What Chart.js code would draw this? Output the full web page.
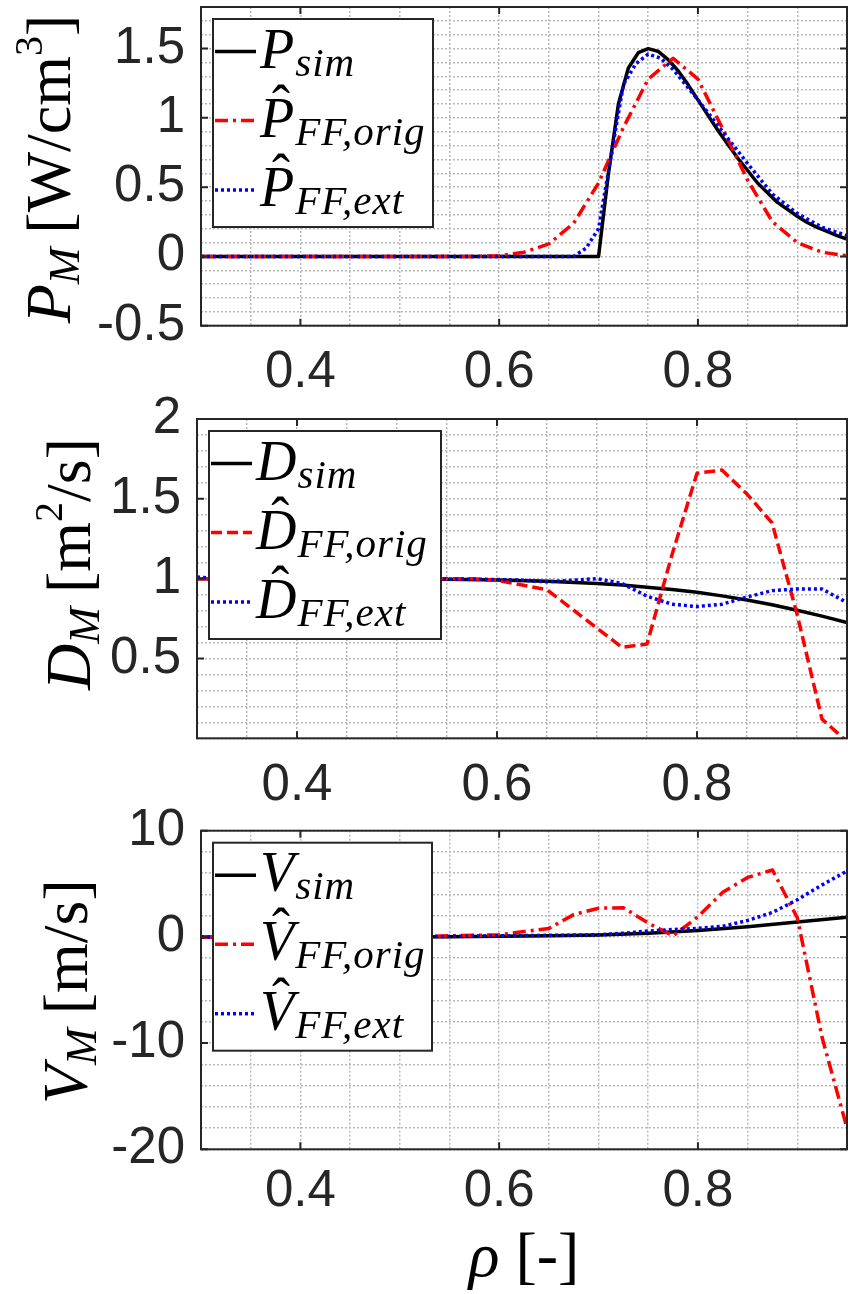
<!DOCTYPE html>
<html>
<head>
<meta charset="utf-8">
<script src="https://cdn.jsdelivr.net/npm/chart.js@4.4.1/dist/chart.umd.min.js"></script>
<style>
  html, body { margin: 0; padding: 0; background: #fff; }
  #wrap { position: relative; width: 848px; height: 1294px; overflow: hidden; }
  .panel { position: absolute; left: 0; width: 848px; }
</style>
</head>
<body>
<div id="wrap">
  <div class="panel" style="top:0;height:420px"><canvas id="cP"></canvas></div>
  <div class="panel" style="top:380px;height:450px"><canvas id="cD"></canvas></div>
  <div class="panel" style="top:790px;height:504px"><canvas id="cV"></canvas></div>
</div>
<script>
// radial grid of the feed-forward profiles
const rhoFF = [0.300, 0.325, 0.350, 0.375, 0.400, 0.425, 0.450, 0.475, 0.500,
               0.525, 0.550, 0.575, 0.600, 0.625, 0.650, 0.675, 0.700, 0.725,
               0.750, 0.775, 0.800, 0.825, 0.850, 0.875, 0.900, 0.925, 0.950];

// P_M
const rhoPsim = [0.30, 0.70, 0.71, 0.72, 0.73, 0.74, 0.75, 0.76, 0.77, 0.78, 0.79, 0.80, 0.81, 0.82,
                 0.83, 0.84, 0.85, 0.86, 0.87, 0.88, 0.89, 0.90, 0.91, 0.92, 0.93, 0.94, 0.95];
const P_sim = [0, 0, 0.60, 1.10, 1.36, 1.47, 1.50, 1.48, 1.42, 1.34, 1.24, 1.13, 1.02, 0.91,
               0.81, 0.71, 0.62, 0.53, 0.46, 0.39, 0.34, 0.29, 0.245, 0.21, 0.18, 0.15, 0.125];
const P_FF_orig = [0, 0, 0, 0, 0, 0, 0, 0, 0, 0, 0, 0, 0.005, 0.03, 0.09, 0.24, 0.53, 0.93,
                   1.28, 1.43, 1.28, 0.92, 0.55, 0.25, 0.10, 0.03, 0.005];
const rhoPext = [0.30, 0.65, 0.675, 0.6875, 0.70, 0.7125, 0.725, 0.7375, 0.75, 0.7625, 0.775,
                 0.7875, 0.80, 0.825, 0.85, 0.875, 0.90, 0.925, 0.95];
const P_FF_ext = [0, 0, 0, 0.06, 0.20, 0.72, 1.24, 1.39, 1.46, 1.43, 1.35,
                  1.24, 1.13, 0.90, 0.67, 0.45, 0.31, 0.21, 0.15];

// D_M
const rhoDsim = [0.30, 0.35, 0.40, 0.45, 0.50, 0.55, 0.60, 0.65, 0.70, 0.725, 0.75, 0.775,
                 0.80, 0.825, 0.85, 0.875, 0.90, 0.925, 0.95];
const D_sim = [1.0, 1.0, 1.0, 1.0, 0.999, 0.996, 0.992, 0.984, 0.97, 0.96, 0.946, 0.932,
               0.915, 0.892, 0.866, 0.836, 0.802, 0.765, 0.725];
const D_FF_orig = [1.0, 1.0, 1.0, 1.0, 1.0, 1.0, 1.0, 1.0, 1.0, 1.0, 1.0, 1.0, 0.99, 0.96, 0.93,
                   0.81, 0.69, 0.57, 0.59, 1.15, 1.66, 1.68, 1.53, 1.35, 0.78, 0.12, -0.02];
const D_FF_ext = [1.01, 1.0, 1.0, 1.0, 1.0, 1.0, 1.0, 0.998, 0.998, 0.998, 0.997, 0.996, 0.995,
                  0.99, 0.98, 0.99, 1.0, 0.97, 0.89, 0.84, 0.825, 0.84, 0.885, 0.925, 0.935,
                  0.935, 0.85];

// V_M
const rhoVsim = [0.30, 0.40, 0.50, 0.55, 0.60, 0.65, 0.70, 0.75, 0.80, 0.85, 0.90, 0.95];
const V_sim = [0, 0, 0, 0.02, 0.05, 0.10, 0.18, 0.35, 0.60, 0.95, 1.40, 1.85];
const V_FF_orig = [0, 0, 0, 0, 0, 0, 0, 0, 0, 0.05, 0.10, 0.15, 0.20, 0.50, 0.80, 2.10, 2.70,
                   2.75, 1.30, 0.10, 1.90, 4.20, 5.60, 6.30, 1.80, -9.50, -18.0];
const V_FF_ext = [0, 0, 0, 0, 0, 0, 0, 0, 0, 0.02, 0.05, 0.08, 0.10, 0.12, 0.15, 0.17, 0.20,
                  0.35, 0.55, 0.70, 0.80, 1.00, 1.55, 2.30, 3.50, 4.90, 6.20];

// axes
const xTicks = [0.4, 0.6, 0.8];
const yTicksP = [-0.5, 0, 0.5, 1, 1.5];
const yTicksD = [0.5, 1, 1.5, 2];
const yTicksV = [-20, -10, 0, 10];

const SANS = "'Liberation Sans', Arial, sans-serif";
const SERIF = "'Liberation Serif', 'DejaVu Serif', serif";
const DASHDOT = [13, 5, 3, 5];
const DASHED = [11, 5];
const DOTTED = [3, 3];

function xy(xs, ys) {
    return xs.map((x, i) => ({ x: x, y: ys[i] }));
}

function gridSteps(min, max, step) {
    const out = [];
    for (let v = min; v <= max + 1e-9; v += step) out.push(+v.toFixed(4));
    return out;
}

function isMajor(list, v) {
    return list.some(m => Math.abs(m - v) < 1e-6);
}

// draws a row of text pieces (italic symbol, subscript ...) starting at x
function drawParts(ctx, x, y, parts) {
    parts.forEach(p => {
        ctx.font = p.f;
        ctx.fillText(p.t, x, y + (p.dy || 0));
        x += ctx.measureText(p.t).width + (p.gap || 0);
    });
    return x;
}

function partsWidth(ctx, parts) {
    let w = 0;
    parts.forEach(p => { ctx.font = p.f; w += ctx.measureText(p.t).width + (p.gap || 0); });
    return w;
}

function matlabLook(cfg) {
    return {
        id: 'matlabLook',
        afterDatasetsDraw(chart) {
            const ctx = chart.ctx, a = chart.chartArea;
            const sx = chart.scales.x, sy = chart.scales.y;
            ctx.save();
            // box and inward tick marks
            ctx.strokeStyle = '#262626';
            ctx.lineWidth = 2;
            ctx.setLineDash([]);
            ctx.strokeRect(a.left, a.top, a.right - a.left, a.bottom - a.top);
            ctx.beginPath();
            xTicks.forEach(v => {
                const px = sx.getPixelForValue(v);
                ctx.moveTo(px, a.bottom); ctx.lineTo(px, a.bottom - 7);
                ctx.moveTo(px, a.top); ctx.lineTo(px, a.top + 7);
            });
            cfg.yMajor.forEach(v => {
                const py = sy.getPixelForValue(v);
                ctx.moveTo(a.left, py); ctx.lineTo(a.left + 7, py);
                ctx.moveTo(a.right, py); ctx.lineTo(a.right - 7, py);
            });
            ctx.stroke();

            // legend (northwest)
            const bx = a.left + 12, by = a.top + 12, bh = 208;
            ctx.fillStyle = '#fff';
            ctx.fillRect(bx, by, cfg.legendW, bh);
            ctx.strokeRect(bx, by, cfg.legendW, bh);
            const rows = [44.5, 113.5, 183];
            cfg.entries.forEach((e, i) => {
                const ds = chart.data.datasets[i];
                const ly = a.top + rows[i];
                ctx.strokeStyle = ds.borderColor;
                ctx.lineWidth = 3.5;
                ctx.setLineDash(ds.borderDash || []);
                ctx.beginPath();
                ctx.moveTo(a.left + 14, ly);
                ctx.lineTo(a.left + 55, ly);
                ctx.stroke();
                ctx.setLineDash([]);

                ctx.fillStyle = '#000';
                ctx.textBaseline = 'alphabetic';
                ctx.textAlign = 'left';
                const tx = a.left + 59, base = ly + 16;
                ctx.font = 'italic 56px ' + SERIF;
                ctx.fillText(e.sym, tx, base);
                const w = ctx.measureText(e.sym).width;
                if (e.hat) {
                    ctx.font = '54px ' + SERIF;
                    ctx.textAlign = 'center';
                    ctx.fillText('\u02C6', tx + w * 0.5 + 4, base - 14);
                    ctx.textAlign = 'left';
                }
                ctx.font = 'italic 41px ' + SERIF;
                ctx.letterSpacing = '1px';
                ctx.fillText(e.sub, tx + w + 1, base + 8);
                ctx.letterSpacing = '0px';
            });
            ctx.restore();
        },
        afterDraw(chart) {
            const ctx = chart.ctx;
            ctx.save();
            ctx.fillStyle = '#000';
            ctx.textBaseline = 'alphabetic';
            ctx.textAlign = 'left';
            // rotated y label
            const t = cfg.yTitle;
            ctx.save();
            ctx.translate(t.x, t.y);
            ctx.rotate(-Math.PI / 2);
            drawParts(ctx, -partsWidth(ctx, t.parts) / 2, 0, t.parts);
            ctx.restore();
            // x label (bottom panel only)
            if (cfg.xTitle) {
                const p = cfg.xTitle.parts;
                drawParts(ctx, cfg.xTitle.x - partsWidth(ctx, p) / 2, cfg.xTitle.y, p);
            }
            ctx.restore();
        }
    };
}

function makePanel(id, cfg) {
    const tickFont = { family: SANS, size: 51 };
    return new Chart(document.getElementById(id), {
        type: 'line',
        data: {
            datasets: cfg.series.map((s, i) => ({
                data: s.data,
                borderColor: s.color,
                borderWidth: 3.5,
                borderDash: s.dash,
                borderCapStyle: 'butt',
                borderJoinStyle: 'round',
                pointRadius: 0,
                fill: false,
                tension: 0,
                clip: 0,
                order: 3 - i
            }))
        },
        options: {
            responsive: true,
            maintainAspectRatio: false,
            animation: false,
            layout: { autoPadding: false, padding: { top: cfg.padTop, right: 1, left: 0, bottom: 0 } },
            plugins: { legend: { display: false }, tooltip: { enabled: false } },
            scales: {
                x: {
                    type: 'linear',
                    min: 0.3,
                    max: 0.95,
                    afterBuildTicks: s => { s.ticks = gridSteps(0.3, 0.95, 0.05).map(v => ({ value: v })); },
                    afterFit: s => { s.height = cfg.xAxisH; s.paddingLeft = 0; s.paddingRight = 0; },
                    ticks: {
                        autoSkip: false,
                        maxRotation: 0,
                        padding: cfg.xPad,
                        font: tickFont,
                        color: '#262626',
                        callback: v => isMajor(xTicks, v) ? String(v) : ''
                    },
                    grid: { color: '#b9b9b9', lineWidth: 1.5, drawTicks: false },
                    border: { display: false, dash: [2, 2] }
                },
                y: {
                    type: 'linear',
                    min: cfg.yMin,
                    max: cfg.yMax,
                    afterBuildTicks: s => { s.ticks = gridSteps(cfg.yMin, cfg.yMax, cfg.yMinor).map(v => ({ value: v })); },
                    afterFit: s => { s.width = cfg.yAxisW; s.paddingTop = 0; s.paddingBottom = 0; },
                    ticks: {
                        autoSkip: false,
                        padding: 16,
                        font: tickFont,
                        color: '#262626',
                        callback: v => isMajor(cfg.yMajor, v) ? String(v) : ''
                    },
                    grid: { color: '#b9b9b9', lineWidth: 1.5, drawTicks: false },
                    border: { display: false, dash: [2, 2] }
                }
            }
        },
        plugins: [matlabLook(cfg)]
    });
}

const IT = s => 'italic ' + s + 'px ' + SERIF;
const RM = s => s + 'px ' + SERIF;

makePanel('cP', {
    padTop: 7, xAxisH: 94.3, xPad: 17, yAxisW: 201,
    yMin: -0.5, yMax: 1.8, yMinor: 0.1, yMajor: yTicksP,
    series: [
        { data: xy(rhoPsim, P_sim), color: '#000000', dash: [] },
        { data: xy(rhoFF, P_FF_orig), color: '#ff0000', dash: DASHDOT },
        { data: xy(rhoPext, P_FF_ext), color: '#0000ff', dash: DOTTED }
    ],
    legendW: 220,
    entries: [
        { sym: 'P', hat: false, sub: 'sim' },
        { sym: 'P', hat: true, sub: 'FF,orig' },
        { sym: 'P', hat: true, sub: 'FF,ext' }
    ],
    yTitle: { x: 70, y: 169, parts: [
        { t: 'P', f: IT(64) }, { t: 'M', f: IT(44), dy: 9, gap: 14 },
        { t: '[W/cm', f: RM(64) }, { t: '3', f: RM(40), dy: -28 }, { t: ']', f: RM(64) }
    ] }
});

makePanel('cD', {
    padTop: 39, xAxisH: 91.7, xPad: 17, yAxisW: 197,
    yMin: 0, yMax: 2, yMinor: 0.1, yMajor: yTicksD,
    series: [
        { data: xy(rhoDsim, D_sim), color: '#000000', dash: [] },
        { data: xy(rhoFF, D_FF_orig), color: '#ff0000', dash: DASHED },
        { data: xy(rhoFF, D_FF_ext), color: '#0000ff', dash: DOTTED }
    ],
    legendW: 232,
    entries: [
        { sym: 'D', hat: false, sub: 'sim' },
        { sym: 'D', hat: true, sub: 'FF,orig' },
        { sym: 'D', hat: true, sub: 'FF,ext' }
    ],
    yTitle: { x: 90, y: 184, parts: [
        { t: 'D', f: IT(64) }, { t: 'M', f: IT(44), dy: 9, gap: 14 },
        { t: '[m', f: RM(64) }, { t: '2', f: RM(40), dy: -28 }, { t: '/s]', f: RM(64) }
    ] }
});

makePanel('cV', {
    padTop: 40.7, xAxisH: 144.7, xPad: 12, yAxisW: 201,
    yMin: -20, yMax: 10, yMinor: 2, yMajor: yTicksV,
    series: [
        { data: xy(rhoVsim, V_sim), color: '#000000', dash: [] },
        { data: xy(rhoFF, V_FF_orig), color: '#ff0000', dash: DASHDOT },
        { data: xy(rhoFF, V_FF_ext), color: '#0000ff', dash: DOTTED }
    ],
    legendW: 219,
    entries: [
        { sym: 'V', hat: false, sub: 'sim' },
        { sym: 'V', hat: true, sub: 'FF,orig' },
        { sym: 'V', hat: true, sub: 'FF,ext' }
    ],
    yTitle: { x: 87, y: 201.7, parts: [
        { t: 'V', f: IT(64) }, { t: 'M', f: IT(44), dy: 9, gap: 14 },
        { t: '[m/s]', f: RM(64) }
    ] },
    xTitle: { x: 524, y: 486, parts: [
        { t: '\u03C1', f: IT(64), gap: 16 }, { t: '[-]', f: RM(64) }
    ] }
});
</script>
</body>
</html>
